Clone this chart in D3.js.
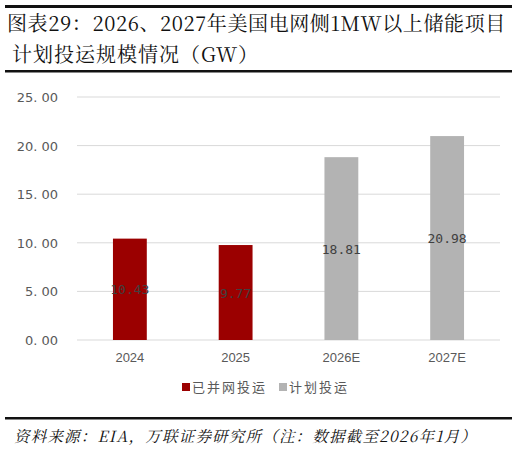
<!DOCTYPE html>
<html><head><meta charset="utf-8">
<script src="https://cdn.jsdelivr.net/npm/d3@7"></script>
<style>body{margin:0;background:#fff}</style>
</head><body>
<script>
const years = ['2024', '2025', '2026E', '2027E']
const values = [10.43, 9.77, 18.81, 20.98]
const series = ['已并网投运', '已并网投运', '计划投运', '计划投运']
const legendNames = ['已并网投运', '计划投运']
const yTicks = [0, 5, 10, 15, 20, 25]
const colours = {'已并网投运': '#9b0000', '计划投运': '#b3b3b3'}

const svg = d3.select('body').append('svg').attr('width', 517).attr('height', 449)
const serif = '"Noto Serif CJK SC","Noto Sans CJK SC",serif'

// rules
svg.append('rect').attr('x', 5).attr('y', 5).attr('width', 507).attr('height', 3).attr('fill', '#111')
svg.append('rect').attr('x', 5).attr('y', 70).attr('width', 507).attr('height', 2.5).attr('fill', '#111')
svg.append('rect').attr('x', 5).attr('y', 417).attr('width', 507).attr('height', 2.5).attr('fill', '#111')

const title = svg.append('text').attr('font-family', serif).attr('font-size', 20).attr('fill', '#111')
title.append('tspan').attr('x', 7).attr('y', 31).attr('letter-spacing', 0.6).text('图表29：2026、2027年美国电网侧1MW以上储能项目')
title.append('tspan').attr('x', 12).attr('y', 62).attr('letter-spacing', 1).text('计划投运规模情况（GW）')

const x = d3.scaleBand().domain(years).range([77, 500]).paddingInner(0.68).paddingOuter(0.34)
const y = d3.scaleLinear().domain([0, 25]).range([340, 97])

svg.append('g').selectAll('line').data(yTicks).join('line')
  .attr('x1', 77).attr('x2', 500).attr('y1', d => y(d)).attr('y2', d => y(d))
  .attr('stroke', '#d9d9d9')

svg.append('g').selectAll('text').data(yTicks).join('text')
  .attr('x', 58).attr('y', d => y(d) + 5).attr('text-anchor', 'end')
  .attr('font-family', 'DejaVu Sans, sans-serif').attr('font-size', 13).attr('fill', '#595959')
  .text(d => d3.format('.2f')(d).replace('.', '. '))

svg.append('g').selectAll('rect').data(values).join('rect')
  .attr('x', (d, i) => x(years[i])).attr('width', x.bandwidth())
  .attr('y', d => y(d)).attr('height', d => y(0) - y(d))
  .attr('fill', (d, i) => colours[series[i]])

svg.append('g').selectAll('text').data(values).join('text')
  .attr('x', (d, i) => x(years[i]) + x.bandwidth() / 2).attr('y', d => (y(d) + y(0)) / 2 + 5)
  .attr('text-anchor', 'middle').attr('font-family', 'DejaVu Sans Mono, monospace').attr('font-size', 13)
  .attr('fill', '#404040').text(d => d.toFixed(2))

svg.append('g').selectAll('text').data(years).join('text')
  .attr('x', d => x(d) + x.bandwidth() / 2).attr('y', 362).attr('text-anchor', 'middle')
  .attr('font-family', 'Liberation Sans, sans-serif').attr('font-size', 13).attr('fill', '#595959').text(d => d)

const lg = svg.append('g')
legendNames.forEach((n, i) => {
  const lx = 182 + i * 97
  lg.append('rect').attr('x', lx).attr('y', 383).attr('width', 8).attr('height', 8).attr('fill', colours[n])
  lg.append('text').attr('x', lx + 10).attr('y', 392).attr('font-family', '"Noto Sans CJK SC"')
    .attr('font-size', 13).attr('fill', '#595959').attr('letter-spacing', 2).text(n)
})

svg.append('text').attr('x', 14).attr('y', 442).attr('font-family', serif).attr('font-size', 15.5)
  .attr('font-style', 'italic').attr('fill', '#111').attr('letter-spacing', 1.2)
  .text('资料来源：EIA，万联证券研究所（注：数据截至2026年1月）')
</script>
</body></html>
